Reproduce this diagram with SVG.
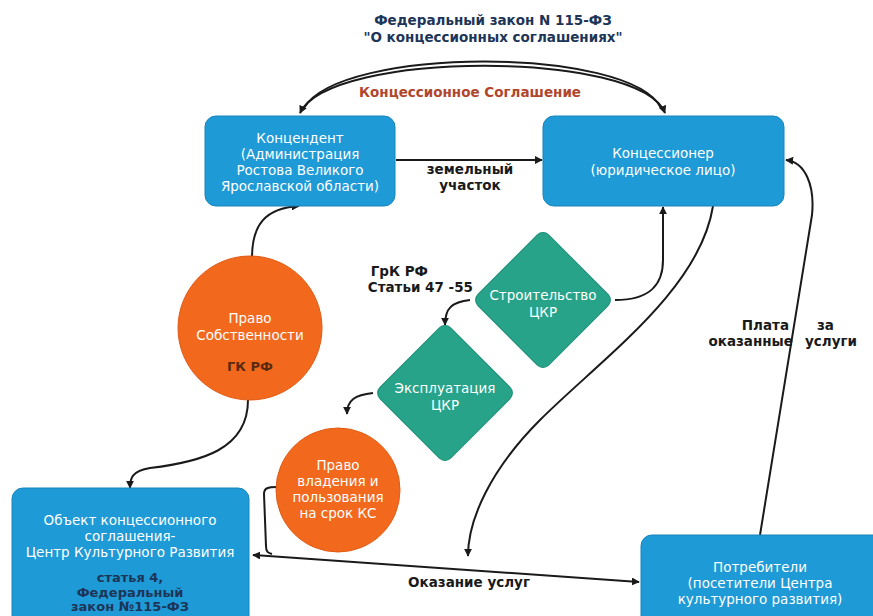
<svg xmlns="http://www.w3.org/2000/svg" width="873" height="616" viewBox="0 0 873 616">
  <defs>
    <marker id="arrow" viewBox="0 0 10 10" refX="9" refY="5" markerWidth="4" markerHeight="4" orient="auto-start-reverse" markerUnits="strokeWidth">
      <path d="M0,0 L10,5 L0,10 z" fill="#1a1a1a"/>
    </marker>
    <style>
      .box { fill: #1e9ad6; stroke: #1784bb; stroke-width: 1; }
      .diamond { fill: #27a389; stroke: #1f8f77; stroke-width: 1; }
      .circle { fill: #f2691e; stroke: #e05a12; stroke-width: 1; }
      .wt { font-family: "DejaVu Sans", Verdana, sans-serif; font-size: 13.5px; fill: #ffffff; text-anchor: middle; }
      .lbl { font-family: "DejaVu Sans", Verdana, sans-serif; font-size: 13.5px; font-weight: bold; fill: #1a1a1a; }
      .ttl { font-family: "DejaVu Sans", Verdana, sans-serif; font-size: 13.5px; font-weight: bold; fill: #1d3557; text-anchor: middle; }
      .dark { font-family: "DejaVu Sans", Verdana, sans-serif; font-size: 13px; font-weight: bold; fill: #1d3557; text-anchor: middle; }
      .conn { fill: none; stroke: #1a1a1a; stroke-width: 2; }
    </style>
  </defs>
  <rect width="873" height="616" fill="#ffffff"/>

  <!-- law header -->
  <g id="law-title">
    <text class="ttl" x="493" y="25">Федеральный закон N 115-ФЗ</text>
    <text class="ttl" x="493" y="42">"О концессионных соглашениях"</text>
  </g>
  <text x="470" y="97" font-family="DejaVu Sans, Verdana, sans-serif" font-size="13.5" font-weight="bold" fill="#b0472d" text-anchor="middle">Концессионное Соглашение</text>

  <!-- connectors -->
  <g id="connectors">
    <path class="conn" d="M 300 113 C 330 50, 640 50, 665 113" marker-start="url(#arrow)" marker-end="url(#arrow)"/>
    <path class="conn" d="M 304 108 C 340 46, 630 46, 661 108" stroke-width="1.2"/>
    <path class="conn" d="M 396 160 L 542 160" marker-end="url(#arrow)"/>
    <path class="conn" d="M 252 258 C 252 225, 265 208, 299 206" marker-end="url(#arrow)"/>
    <path class="conn" d="M 248 400 C 248 450, 200 462, 150 468 C 132 471, 130 478, 130 488" marker-end="url(#arrow)"/>
    <path class="conn" d="M 615 300 C 650 300, 663 285, 663 260 L 663 207" marker-end="url(#arrow)"/>
    <path class="conn" d="M 470 300 C 452 302, 445 308, 445 325" marker-end="url(#arrow)"/>
    <path class="conn" d="M 373 393 C 355 395, 347 400, 347 414" marker-end="url(#arrow)"/>
    <path class="conn" d="M 713 206 C 700 290, 600 360, 540 420 C 490 470, 468 520, 468 556" marker-end="url(#arrow)"/>
    <path class="conn" d="M 253 555 L 639 582" marker-start="url(#arrow)" marker-end="url(#arrow)"/>
    <path class="conn" d="M 277 487 C 268 487, 264 488, 264 494 L 266 546 C 266 552, 268 553, 272 554" stroke-width="1.6"/>
    <path class="conn" d="M 760 535 L 812 215 C 815 185, 805 162, 786 160" marker-end="url(#arrow)"/>
  </g>

  <!-- edge labels -->
  <g id="edge-labels">
    <text class="lbl" x="470" y="174" text-anchor="middle">земельный</text>
    <text class="lbl" x="470" y="190" text-anchor="middle">участок</text>
    <text class="lbl" x="428" y="276" text-anchor="end">ГрК РФ</text>
    <text class="lbl" x="473" y="292" text-anchor="end">Статьи 47 -55</text>
    <text class="lbl" x="789" y="330" text-anchor="end">Плата</text>
    <text class="lbl" x="793" y="346" text-anchor="end">оказанные</text>
    <text class="lbl" x="817" y="330">за</text>
    <text class="lbl" x="805" y="346">услуги</text>
    <text class="lbl" x="469" y="587" text-anchor="middle">Оказание услуг</text>
  </g>

  <!-- nodes -->
  <g id="node-concedent">
    <rect class="box" x="205" y="116" width="190" height="90" rx="11"/>
    <text class="wt" x="300" y="143">Концендент</text>
    <text class="wt" x="300" y="159">(Администрация</text>
    <text class="wt" x="300" y="175">Ростова Великого</text>
    <text class="wt" x="300" y="191">Ярославской области)</text>
  </g>

  <g id="node-concessionaire">
    <rect class="box" x="543" y="116" width="241" height="90" rx="11"/>
    <text class="wt" x="663" y="158">Концессионер</text>
    <text class="wt" x="663" y="175">(юридическое лицо)</text>
  </g>

  <g id="node-ownership">
    <circle class="circle" cx="250" cy="328" r="72"/>
    <text class="wt" x="250" y="323">Право</text>
    <text class="wt" x="250" y="340">Собственности</text>
    <text x="250" y="371" font-family="DejaVu Sans, Verdana, sans-serif" font-size="13" font-weight="bold" fill="#5a2a10" text-anchor="middle">ГК РФ</text>
  </g>

  <g id="node-construction">
    <rect class="diamond" x="-50" y="-50" width="100" height="100" rx="8" transform="translate(543,300) rotate(45)"/>
    <text class="wt" x="543" y="300">Строительство</text>
    <text class="wt" x="543" y="317">ЦКР</text>
  </g>

  <g id="node-operation">
    <rect class="diamond" x="-50" y="-50" width="100" height="100" rx="8" transform="translate(445,393) rotate(45)"/>
    <text class="wt" x="445" y="393">Эксплуатация</text>
    <text class="wt" x="445" y="410">ЦКР</text>
  </g>

  <g id="node-possession">
    <circle class="circle" cx="338" cy="490" r="62"/>
    <text class="wt" x="338" y="470">Право</text>
    <text class="wt" x="338" y="486">владения и</text>
    <text class="wt" x="338" y="502">пользования</text>
    <text class="wt" x="338" y="518">на срок КС</text>
  </g>

  <g id="node-object">
    <rect class="box" x="12" y="488" width="237" height="150" rx="11"/>
    <text class="wt" x="130" y="525">Объект концессионного</text>
    <text class="wt" x="130" y="541">соглашения-</text>
    <text class="wt" x="130" y="557">Центр Культурного Развития</text>
    <text class="dark" x="130" y="582">статья 4,</text>
    <text class="dark" x="130" y="597">Федеральный</text>
    <text class="dark" x="130" y="611">закон №115-ФЗ</text>
  </g>

  <g id="node-consumers">
    <rect class="box" x="641" y="535" width="250" height="100" rx="11"/>
    <text class="wt" x="760" y="572">Потребители</text>
    <text class="wt" x="760" y="588">(посетители Центра</text>
    <text class="wt" x="760" y="604">культурного развития)</text>
  </g>
</svg>
